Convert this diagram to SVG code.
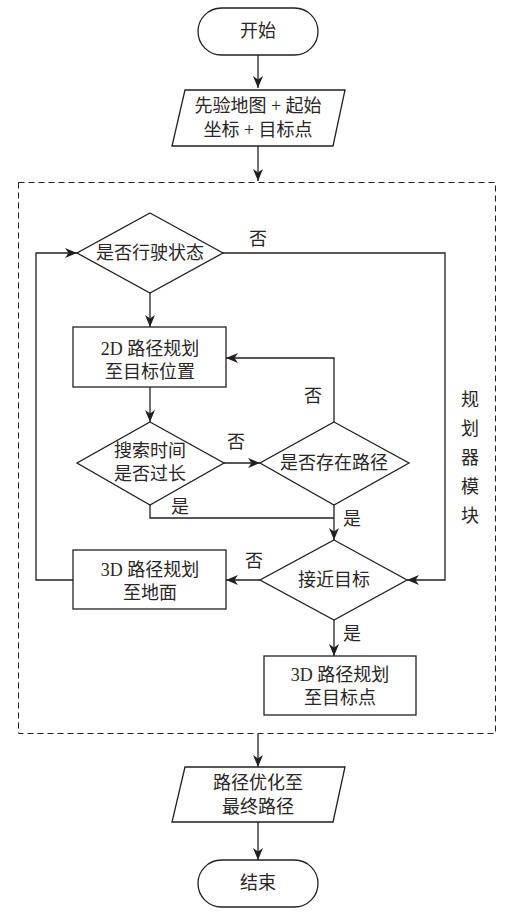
<svg xmlns="http://www.w3.org/2000/svg" width="516" height="917" viewBox="0 0 516 917">
<style>
.s{fill:#fff;stroke:#231f20;stroke-width:1.3}
.c{fill:none;stroke:#231f20;stroke-width:1.3}
text{font-family:"Liberation Serif","Noto Sans CJK SC",serif;font-size:18px;fill:#2a2627;text-anchor:middle;dominant-baseline:central}
.d{fill:none;stroke:#231f20;stroke-width:1;stroke-dasharray:6,4}
</style>
<defs>
<marker id="a" viewBox="0 0 12 10" markerWidth="12" markerHeight="10" refX="12" refY="5" orient="auto" markerUnits="userSpaceOnUse">
<path d="M0,0 L12,5 L0,10 L3.5,5 z" fill="#231f20"/>
</marker>
</defs>
<rect class="d" x="18.5" y="182.5" width="477" height="551"/>
<g id="connectors">
<path class="c" d="M258,55 V88" marker-end="url(#a)"/>
<path class="c" d="M258,146 V181" marker-end="url(#a)"/>
<path class="c" d="M223,253 H445 V580 H407" marker-end="url(#a)"/>
<path class="c" d="M150,293 V327" marker-end="url(#a)"/>
<path class="c" d="M150,387 V422" marker-end="url(#a)"/>
<path class="c" d="M224,463 H260" marker-end="url(#a)"/>
<path class="c" d="M334,422 V358 H226" marker-end="url(#a)"/>
<path class="c" d="M150,505 V518 H334"/>
<path class="c" d="M334,505 V540" marker-end="url(#a)"/>
<path class="c" d="M260,580 H226" marker-end="url(#a)"/>
<path class="c" d="M73,580 H36 V253 H77" marker-end="url(#a)"/>
<path class="c" d="M334,620 V656" marker-end="url(#a)"/>
<path class="c" d="M258,734 V767" marker-end="url(#a)"/>
<path class="c" d="M258,822 V860" marker-end="url(#a)"/>
</g>
<g id="labels">
<text x="258" y="239">否</text>
<text x="236" y="442">否</text>
<text x="313" y="396">否</text>
<text x="180" y="507">是</text>
<text x="352" y="519">是</text>
<text x="254" y="561">否</text>
<text x="352" y="634">是</text>
<text x="470" y="400">规</text>
<text x="470" y="429">划</text>
<text x="470" y="458">器</text>
<text x="470" y="487">模</text>
<text x="470" y="516">块</text>
</g>
<g id="start">
<rect class="s" x="198" y="8" width="120" height="47" rx="23.5"/>
<text x="258" y="31">开始</text>
</g>
<g id="input">
<path class="s" d="M185,90 H345 L333,146 H172 z"/>
<text x="258" y="106">先验地图 + 起始</text>
<text x="258" y="130">坐标 + 目标点</text>
</g>
<g id="driving">
<path class="s" d="M150,213 L223,253 L150,293 L77,253 z"/>
<text x="150" y="253">是否行驶状态</text>
</g>
<g id="plan2d">
<rect class="s" x="73" y="327" width="153" height="60"/>
<text x="150" y="349">2D 路径规划</text>
<text x="150" y="372">至目标位置</text>
</g>
<g id="timeout">
<path class="s" d="M150,422 L224,463 L150,505 L77,463 z"/>
<text x="150" y="451">搜索时间</text>
<text x="150" y="474">是否过长</text>
</g>
<g id="pathexists">
<path class="s" d="M334,422 L409,463 L334,505 L260,463 z"/>
<text x="334" y="463">是否存在路径</text>
</g>
<g id="neartarget">
<path class="s" d="M334,540 L407,580 L334,620 L260,580 z"/>
<text x="334" y="580">接近目标</text>
</g>
<g id="plan3dground">
<rect class="s" x="73" y="550" width="153" height="59"/>
<text x="150" y="570">3D 路径规划</text>
<text x="150" y="593">至地面</text>
</g>
<g id="plan3dtarget">
<rect class="s" x="264" y="656" width="152" height="59"/>
<text x="340" y="675">3D 路径规划</text>
<text x="340" y="698">至目标点</text>
</g>
<g id="optimize">
<path class="s" d="M185,767 H345 L333,822 H172 z"/>
<text x="258" y="783">路径优化至</text>
<text x="258" y="807">最终路径</text>
</g>
<g id="end">
<rect class="s" x="198" y="860" width="120" height="47" rx="23.5"/>
<text x="258" y="883">结束</text>
</g>
</svg>
